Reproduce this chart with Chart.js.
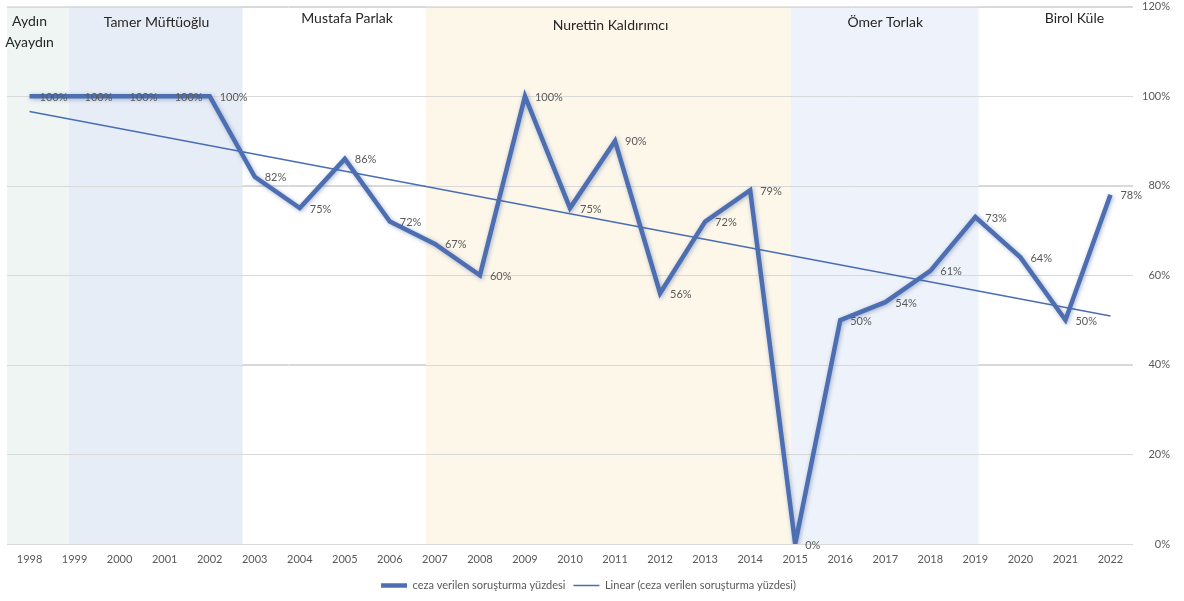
<!DOCTYPE html>
<html>
<head>
<meta charset="utf-8">
<script src="https://cdn.jsdelivr.net/npm/chart.js@4"></script>
<style>
  html, body { margin: 0; padding: 0; background: #fff; }
  #wrap { width: 1184px; height: 601px; position: relative; }
</style>
</head>
<body>
<div id="wrap"><canvas id="chart"></canvas></div>
<script>
// years on the x axis
var years = ['1998','1999','2000','2001','2002','2003','2004','2005','2006','2007','2008','2009',
  '2010','2011','2012','2013','2014','2015','2016','2017','2018','2019','2020','2021','2022'];
// ceza verilen soruşturma yüzdesi (%)
var percents = [100,100,100,100,100,82,75,86,72,67,60,100,75,90,56,72,79,0,50,54,61,73,64,50,78];
// linear trend, read at the first and last year
var trendStart = 96.6;
var trendEnd = 50.9;
var yTicks = [0,20,40,60,80,100,120];

// terms (rectorate periods), in year-index units
var termNames = [['Aydın','Ayaydın'],['Tamer Müftüoğlu'],['Mustafa Parlak'],['Nurettin Kaldırımcı'],['Ömer Torlak'],['Birol Küle']];
var termFrom = [-0.5, 0.87, 4.73, 8.8, 16.9, 21.07];
var termTo   = [0.87, 4.73, 8.8, 16.9, 21.07, 24.5];
var termLabelAt = [0, 2.82, 7.05, 12.9, 19.0, 23.2];

var termColors = ['#eef5f3','#e7edf6',null,'#fdf7ea','#eef2fa',null];
var termLabelY = [[21,42],[22],[18],[25],[22],[18]];

var trendData = [];
for (var i=0;i<years.length;i++) trendData.push(null);
trendData[0] = trendStart;
trendData[years.length-1] = trendEnd;

var bandsPlugin = {
  id: 'bands',
  beforeDatasetsDraw: function(chart) {
    var ctx = chart.ctx, x = chart.scales.x, a = chart.chartArea;
    ctx.save();
    for (var i=0;i<termNames.length;i++) {
      if (!termColors[i]) continue;
      var x1 = Math.max(a.left, x.getPixelForValue(termFrom[i]));
      var x2 = Math.min(a.right, x.getPixelForValue(termTo[i]));
      ctx.fillStyle = termColors[i];
      ctx.fillRect(x1, a.top, x2-x1, a.bottom-a.top);
    }
    // redraw grid lines over bands
    var y = chart.scales.y;
    ctx.strokeStyle = '#d9d9d9';
    ctx.lineWidth = 1;
    yTicks.forEach(function(t){
      var py = Math.round(y.getPixelForValue(t)) + 0.5;
      ctx.beginPath(); ctx.moveTo(a.left, py); ctx.lineTo(a.right, py); ctx.stroke();
    });
    ctx.fillStyle = '#262626';
    ctx.font = '14px Lato, "Open Sans", sans-serif';
    ctx.textAlign = 'center';
    ctx.textBaseline = 'middle';
    for (var i=0;i<termNames.length;i++) {
      var px = x.getPixelForValue(termLabelAt[i]);
      for (var j=0;j<termNames[i].length;j++) {
        ctx.fillText(termNames[i][j], px, termLabelY[i][j]);
      }
    }
    ctx.restore();
  }
};

var shadowPlugin = {
  id: 'shadow',
  beforeDatasetDraw: function(chart, args) {
    if (args.index === 0) {
      chart.ctx.save();
      chart.ctx.shadowColor = 'rgba(60,90,150,0.45)';
      chart.ctx.shadowBlur = 4;
      chart.ctx.shadowOffsetX = 1;
      chart.ctx.shadowOffsetY = 1;
    }
  },
  afterDatasetDraw: function(chart, args) {
    if (args.index === 0) chart.ctx.restore();
  }
};

var labelsPlugin = {
  id: 'pointLabels',
  afterDatasetsDraw: function(chart) {
    var ctx = chart.ctx;
    var meta = chart.getDatasetMeta(0);
    ctx.save();
    ctx.fillStyle = '#595959';
    ctx.font = '11px Lato, "Open Sans", sans-serif';
    ctx.textAlign = 'left';
    ctx.textBaseline = 'middle';
    meta.data.forEach(function(pt, i) {
      ctx.fillText(percents[i] + '%', pt.x + 10, pt.y + 1);
    });
    ctx.restore();
  }
};

Chart.defaults.font.family = 'Lato, "Open Sans", sans-serif';
Chart.defaults.color = '#595959';

var ctx = document.getElementById('chart').getContext('2d');
var chart = new Chart(ctx, {
  type: 'line',
  data: {
    labels: years,
    datasets: [
      {
        label: 'ceza verilen soruşturma yüzdesi',
        data: percents,
        borderColor: '#4d6fb1',
        backgroundColor: '#4d6fb1',
        borderWidth: 4.5,
        pointRadius: 0,
        tension: 0,
        borderJoinStyle: 'miter'
      },
      {
        label: 'Linear (ceza verilen soruşturma yüzdesi)',
        data: trendData,
        spanGaps: true,
        borderColor: '#4a6db3',
        backgroundColor: '#4a6db3',
        borderWidth: 1.5,
        pointRadius: 0
      }
    ]
  },
  options: {
    responsive: true,
    maintainAspectRatio: false,
    animation: false,
    layout: { padding: { left: 7, top: 1, right: 14, bottom: 0 } },
    plugins: {
      tooltip: { enabled: false },
      legend: {
        position: 'bottom',
        labels: {
          usePointStyle: true,
          pointStyle: 'line',
          pointStyleWidth: 26,
          boxHeight: 10,
          font: { size: 11 },
          color: '#595959',
          padding: 8
        }
      }
    },
    scales: {
      x: {
        offset: true,
        grid: { display: false },
        border: { display: false },
        afterFit: function(s) { s.height = 28; },
        ticks: { font: { size: 11 }, color: '#595959', maxRotation: 0, autoSkip: false, padding: 1 }
      },
      y: {
        position: 'right',
        min: 0,
        max: 120,
        grid: { color: '#d9d9d9', drawTicks: false },
        border: { display: false },
        afterFit: function(s) { s.width = 37; },
        afterBuildTicks: function(s) { s.ticks = yTicks.map(function(v){ return {value: v}; }); },
        ticks: {
          font: { size: 11 },
          color: '#595959',
          padding: 0,
          crossAlign: 'far',
          callback: function(v) { return v + '%'; }
        }
      }
    }
  },
  plugins: [bandsPlugin, shadowPlugin, labelsPlugin]
});
</script>
</body>
</html>
